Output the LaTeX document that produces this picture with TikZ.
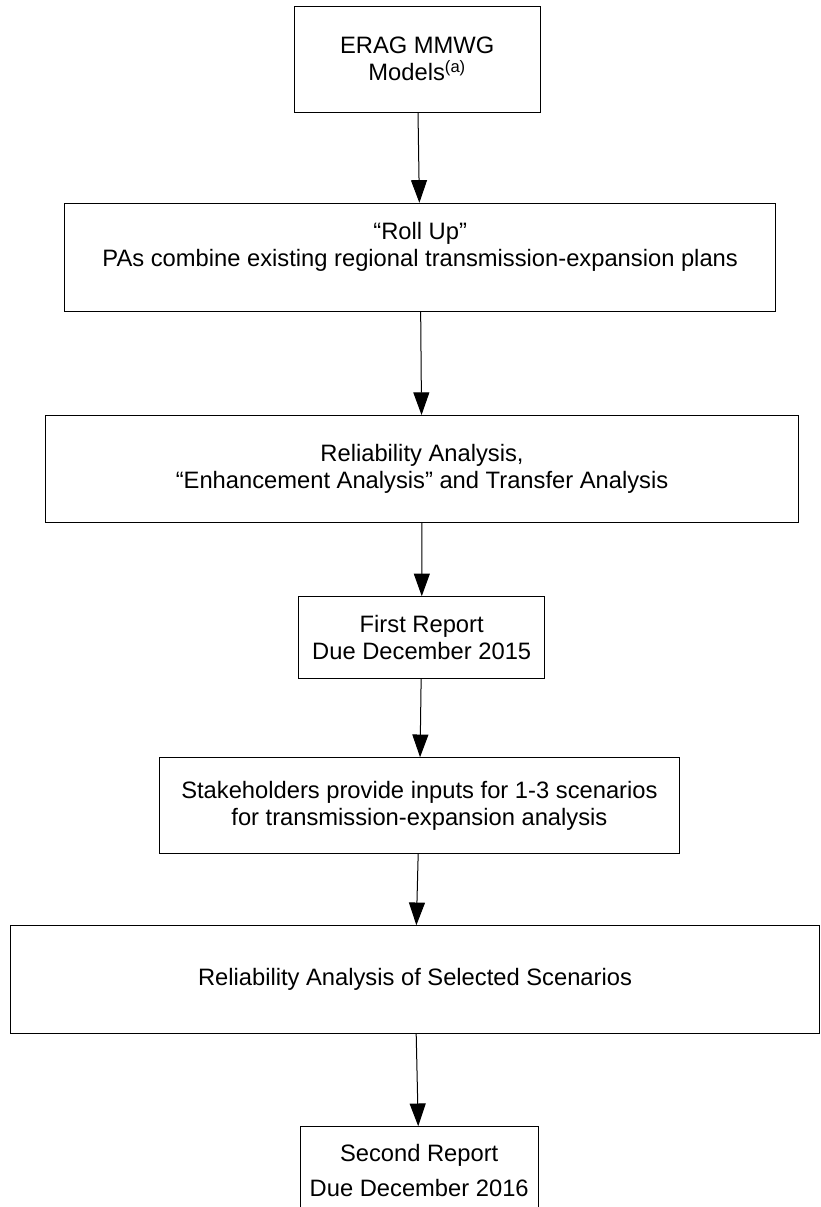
\documentclass[tikz,border=0pt]{standalone}
\usepackage{fontspec}
\setmainfont{Liberation Sans}
\usetikzlibrary{arrows.meta}
\begin{document}
\begin{tikzpicture}[x=0.75pt,y=-0.75pt,
	flowbox/.style={draw,line width=0.75pt,inner sep=0pt,align=center,font=\fontsize{17.8}{20.25}\selectfont},
	flow/.style={-{Triangle[length=17pt,width=12pt]},line width=0.75pt}]
	\clip (0,0) rectangle (821,1207);
	\node[flowbox,minimum width=184.8pt,minimum height=79.5pt](models) at (417.2,59){ERAG MMWG\\Models\textsuperscript{(a)}};
	\node[flowbox,minimum width=533pt,minimum height=81.3pt](rollup) at (420.2,257.5){“Roll Up”\\PAs combine existing regional transmission-expansion plans\\~};
	\node[flowbox,minimum width=564.7pt,minimum height=80.4pt](reliab) at (422,469.1){Reliability Analysis,\\“Enhancement Analysis” and Transfer Analysis};
	\node[flowbox,minimum width=184.5pt,minimum height=61.2pt](first) at (421.7,637.5){First Report\\Due December 2015};
	\node[flowbox,minimum width=389.5pt,minimum height=71.7pt](stake) at (419.4,805.5){Stakeholders provide inputs for 1-3 scenarios\\for transmission-expansion analysis};
	\node[flowbox,minimum width=606.8pt,minimum height=81pt](select) at (415,979.7){Reliability Analysis of Selected Scenarios};
	\node[flowbox,minimum width=178.7pt,minimum height=66.5pt](second) at (419.2,1171){Second Report\\[6pt]Due December 2016};
	\draw[flow] (models) -- (rollup);
	\draw[flow] (rollup) -- (reliab);
	\draw[flow] (reliab) -- (first);
	\draw[flow] (first) -- (stake);
	\draw[flow] (stake) -- (select);
	\draw[flow] (select) -- (second);
\end{tikzpicture}
\end{document}
